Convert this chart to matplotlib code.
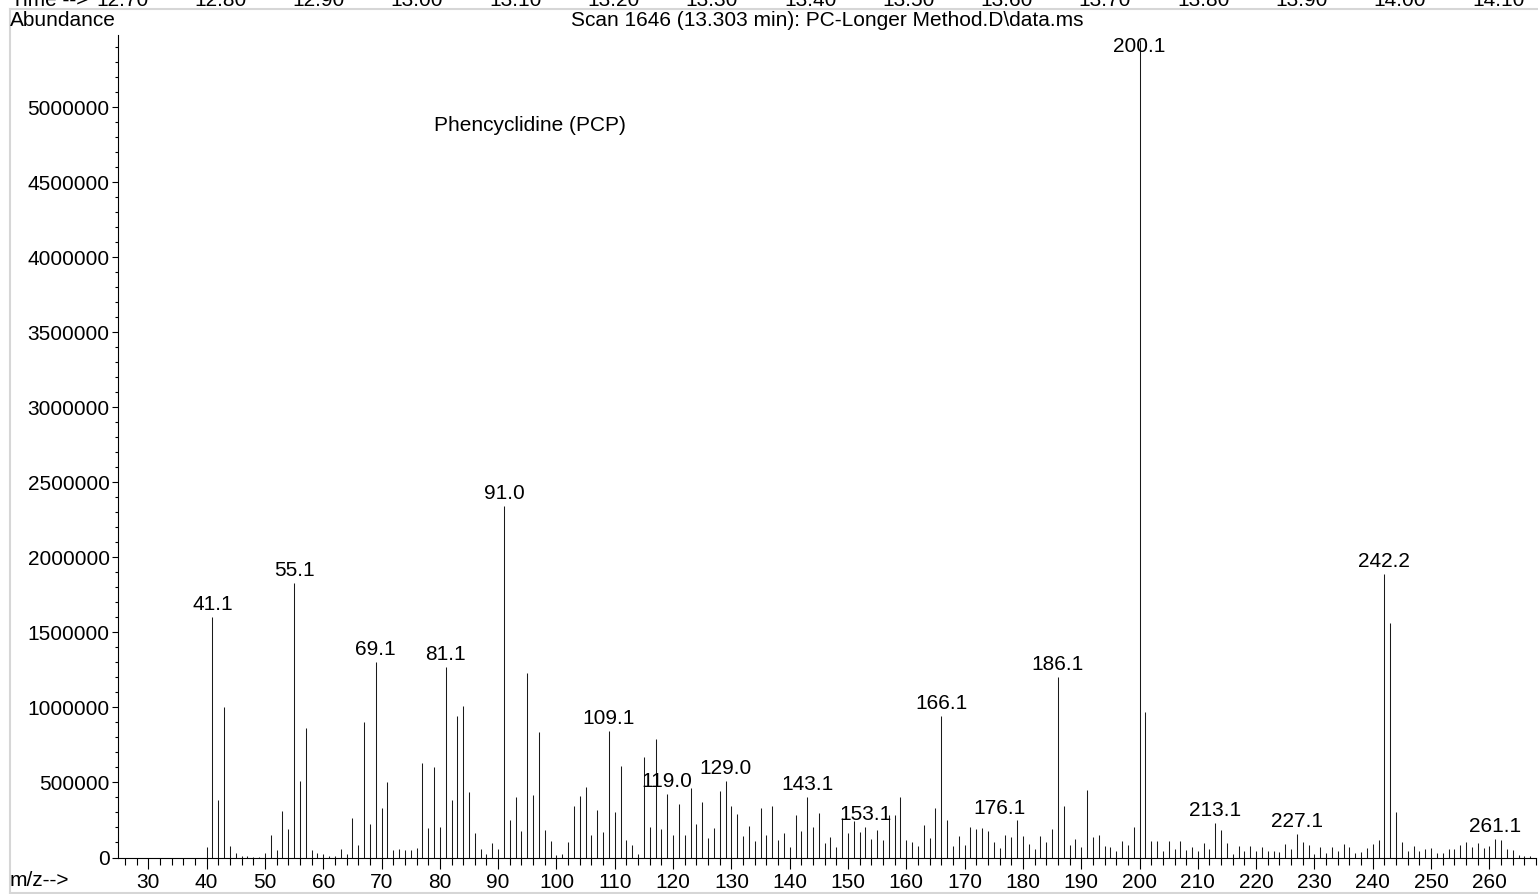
import numpy as np
import matplotlib
matplotlib.use("Agg")
import matplotlib.pyplot as plt
from matplotlib.lines import Line2D
from matplotlib.ticker import MultipleLocator

plt.rcParams['font.family'] = ['Liberation Sans', 'DejaVu Sans']

# m/z values and abundances
mz = list(range(40, 268))
abundance = [
    70000, 1600000, 386000, 1005000, 76000, 29000, 13000, 7000, 5000, 5000,          # 40-49
    33000, 151000, 47000, 307000, 193000, 1829000, 507000, 863000, 51000, 27000,     # 50-59
    22000, 9000, 9000, 58000, 25000, 260000, 82000, 905000, 225000, 1305000,         # 60-69
    331000, 505000, 49000, 58000, 51000, 51000, 60000, 631000, 195000, 602000,       # 70-79
    200000, 1271000, 380000, 945000, 1011000, 436000, 162000, 58000, 22000, 98000,   # 80-89
    56000, 2345000, 253000, 400000, 176000, 1227000, 418000, 836000, 182000, 111000, # 90-99
    15000, 22000, 104000, 340000, 413000, 471000, 153000, 315000, 167000, 845000,    # 100-109
    304000, 607000, 116000, 80000, 22000, 673000, 200000, 793000, 187000, 424000,    # 110-119
    149000, 358000, 149000, 465000, 222000, 367000, 129000, 198000, 444000, 511000,  # 120-129
    344000, 293000, 144000, 211000, 107000, 331000, 149000, 340000, 118000, 162000,  # 130-139
    71000, 284000, 178000, 404000, 204000, 298000, 98000, 136000, 67000, 260000,     # 140-149
    162000, 245000, 171000, 200000, 120000, 184000, 116000, 280000, 286000, 400000,  # 150-159
    118000, 104000, 76000, 218000, 127000, 327000, 940000, 247000, 74000, 140000,    # 160-169
    80000, 206000, 190000, 199000, 175000, 102000, 62000, 150000, 135000, 250000,    # 170-179
    140000, 87000, 58000, 140000, 102000, 187000, 1205000, 344000, 80000, 125000,    # 180-189
    67000, 451000, 135000, 151000, 75000, 69000, 42000, 107000, 82000, 206000,       # 190-199
    5450000, 967000, 108000, 112000, 44000, 112000, 56000, 107000, 51000, 72000,     # 200-209
    44000, 95000, 56000, 233000, 182000, 95000, 26000, 77000, 46000, 77000,          # 210-219
    44000, 69000, 43000, 43000, 37000, 92000, 59000, 158000, 104000, 80000,          # 220-229
    22000, 67000, 33000, 67000, 44000, 89000, 67000, 31000, 38000, 62000,            # 230-239
    89000, 118000, 1893000, 1560000, 305000, 104000, 44000, 78000, 44000, 56000,     # 240-249
    62000, 33000, 33000, 56000, 56000, 82000, 100000, 71000, 98000, 62000,           # 250-259
    78000, 122000, 116000, 56000, 49000, 16000, 11000, 11000,                        # 260-267
]

peak_labels = ["41.1", "55.1", "69.1", "81.1", "91.0", "109.1", "119.0", "129.0",
               "143.1", "153.1", "166.1", "176.1", "186.1", "200.1", "213.1",
               "227.1", "242.2", "261.1"]

time_labels = ["12.70", "12.80", "12.90", "13.00", "13.10", "13.20", "13.30", "13.40",
               "13.50", "13.60", "13.70", "13.80", "13.90", "14.00", "14.10"]

W, H = 1538, 894
fig = plt.figure(figsize=(W / 100, H / 100), dpi=100)
ax = fig.add_axes([118 / W, (H - 857.5) / H, (1536 - 118) / W, (857.5 - 35) / H])

ax.vlines(mz, 0, abundance, colors='#1a1a1a', linewidth=0.75)

ymax = 5483000
ax.set_xlim(24.8, 268.0)
ax.set_ylim(0, ymax)

for lab in peak_labels:
    m = int(round(float(lab)))
    h = abundance[mz.index(m)]
    if h > ymax * 0.97:
        # no room above the base peak: label sits on the bar near the top
        ax.annotate(lab, (m, ymax), xytext=(0, -2), textcoords='offset pixels',
                    ha='center', va='top', fontsize=15)
    else:
        lift = 30 if lab == "176.1" else 3
        ax.annotate(lab, (m, h), xytext=(0, lift), textcoords='offset pixels',
                    ha='center', va='bottom', fontsize=15)

ax.text(95.4, 4880000, "Phencyclidine (PCP)", ha='center', va='center', fontsize=15)

ax.spines['top'].set_visible(False)
ax.spines['right'].set_visible(False)
for s in ('left', 'bottom'):
    ax.spines[s].set_linewidth(0.8)

ax.xaxis.set_major_locator(MultipleLocator(10))
ax.xaxis.set_minor_locator(MultipleLocator(2))
ax.yaxis.set_major_locator(MultipleLocator(500000))
ax.yaxis.set_minor_locator(MultipleLocator(100000))
ax.ticklabel_format(style='plain', axis='y', useOffset=False)
ax.tick_params(axis='x', which='major', length=8, width=0.8, labelsize=15, pad=3)
ax.tick_params(axis='x', which='minor', length=5, width=0.8)
ax.tick_params(axis='y', which='major', length=4, width=0.8, labelsize=15, pad=2)
ax.tick_params(axis='y', which='minor', length=2.5, width=0.8)

fig.text(10 / W, 1 - 20 / H, "Abundance", ha='left', va='center', fontsize=15)
fig.text(10 / W, 1 - 880 / H, "m/z-->", ha='left', va='center', fontsize=15)
fig.text(827 / W, 1 - 20 / H, r"Scan 1646 (13.303 min): PC-Longer Method.D\data.ms",
         ha='center', va='center', fontsize=15)

# cut-off time strip of the chromatogram above
fig.text(11 / W, 1 - 6 / H, "Time -->", ha='left', va='baseline', fontsize=15)
for i, t in enumerate(time_labels):
    fig.text((122 + i * 98.3) / W, 1 - 6 / H, t, ha='center', va='baseline', fontsize=15)

grey = '#d6d6d6'
fig.add_artist(Line2D([9.5 / W, 1], [1 - 9 / H, 1 - 9 / H], color=grey, lw=1.5))
fig.add_artist(Line2D([9.5 / W, 9.5 / W], [1 - 9 / H, 1.5 / H], color=grey, lw=1.5))
fig.add_artist(Line2D([9.5 / W, 1], [1.5 / H, 1.5 / H], color=grey, lw=1.5))

fig.savefig("out.png", dpi=100)
